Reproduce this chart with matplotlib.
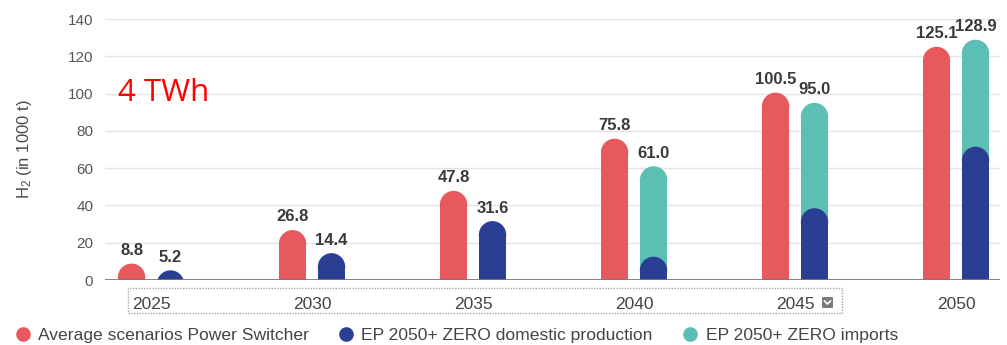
import matplotlib
matplotlib.use("Agg")
import matplotlib.pyplot as plt
from matplotlib.patches import Ellipse, Rectangle, FancyBboxPatch
from matplotlib.lines import Line2D
import numpy as np

plt.rcParams['font.family'] = ['Liberation Sans', 'DejaVu Sans']
plt.rcParams['mathtext.default'] = 'regular'

years = ['2025', '2030', '2035', '2040', '2045', '2050']
power_switcher = [8.8, 26.8, 47.8, 75.8, 100.5, 125.1]
ep_total = [5.2, 14.4, 31.6, 61.0, 95.0, 128.9]
ep_domestic = [5.2, 14.4, 31.6, 12.5, 38.5, 71.5]

RED = '#e8595e'
BLUE = '#2a3f94'
TEAL = '#5cbfb3'
LABEL = '#3a3a3a'

W, H = 1007, 345
fig = plt.figure(figsize=(W / 100, H / 100), dpi=100)
ax = fig.add_axes([105 / W, 1 - 280 / H, 895 / W, 261 / H])
ax.set_xlim(-0.286, 5.273)
ax.set_ylim(0, 140)

x = np.arange(len(years))
bw = 0.17
off = 0.121

# pixel scale of each axis, for round caps
fig.canvas.draw()
p0 = ax.transData.transform((0, 0))
p1 = ax.transData.transform((1, 1))
px_x = p1[0] - p0[0]
px_y = p1[1] - p0[1]
rx = bw / 2
ry = rx * px_x / px_y


def rounded_bar(xc, top, color, z):
    body = max(top - ry, 0)
    ax.bar(xc, body, width=bw, color=color, zorder=z, linewidth=0)
    ax.add_patch(Ellipse((xc, top - ry), 2 * rx, 2 * ry, color=color,
                         zorder=z, linewidth=0))


for i in range(len(years)):
    rounded_bar(x[i] - off, power_switcher[i], RED, 3)
    if ep_total[i] > ep_domestic[i]:
        rounded_bar(x[i] + off, ep_total[i], TEAL, 3)
    rounded_bar(x[i] + off, ep_domestic[i], BLUE, 4)
    ax.annotate(f'{power_switcher[i]:.1f}', (x[i] - off, power_switcher[i]),
                xytext=(0, 4), textcoords='offset points', ha='center',
                va='bottom', fontsize=12, fontweight='bold', color=LABEL)
    ax.annotate(f'{ep_total[i]:.1f}', (x[i] + off, ep_total[i]),
                xytext=(0, 4), textcoords='offset points', ha='center',
                va='bottom', fontsize=12, fontweight='bold', color=LABEL)

ax.set_yticks(range(0, 141, 20))
ax.grid(axis='y', color='#e4e4e4', linewidth=1, zorder=0)
ax.set_axisbelow(True)
ax.axhline(0, color='#7a7a7a', linewidth=2, zorder=5)
for s in ax.spines.values():
    s.set_visible(False)
ax.tick_params(axis='y', length=0, pad=8.5, labelsize=11, labelcolor='#555555')
ax.set_xticks(x)
ax.set_xticklabels(years)
ax.tick_params(axis='x', length=0, pad=12, labelsize=12.5, labelcolor='#444444')
ax.set_ylabel('H$_2$ (in 1000 t)', fontsize=12, color='#4a4a4a', labelpad=24)

ax.text(118 / W, 1 - 93 / H, '4 TWh', transform=fig.transFigure, color='red',
        fontsize=22.5, family='Open Sans', va='center', ha='left')

# dotted selection box round the year labels
fig.add_artist(Rectangle((128 / W, 1 - 313 / H), 714 / W, 25 / H,
                         transform=fig.transFigure, fill=False,
                         edgecolor='#a8a8a8', linewidth=1, linestyle=(0, (1, 1))))
fig.add_artist(FancyBboxPatch((822 / W, 1 - 308 / H), 11 / W, 11 / H,
                              boxstyle='round,pad=0,rounding_size=0.002',
                              transform=fig.transFigure, facecolor='#7a7a7a',
                              edgecolor='none'))
fig.add_artist(Line2D([824.5 / W, 827.5 / W, 830.5 / W],
                      [1 - 301 / H, 1 - 304 / H, 1 - 301 / H],
                      transform=fig.transFigure, color='white', linewidth=1.2))

handles = [Line2D([], [], marker='o', linestyle='none', markersize=9.5,
                  color=c) for c in (RED, BLUE, TEAL)]
names = ['Average scenarios Power Switcher', 'EP 2050+ ZERO domestic production',
         'EP 2050+ ZERO imports']
fig.legend(handles, names, loc='center left', bbox_to_anchor=(14 / W, 1 - 335 / H),
           ncol=3, frameon=False, fontsize=12.6, handlelength=1,
           handletextpad=0.36, columnspacing=1.65, labelcolor='#444444',
           borderaxespad=0, borderpad=0)

fig.savefig('out.png', dpi=100)
